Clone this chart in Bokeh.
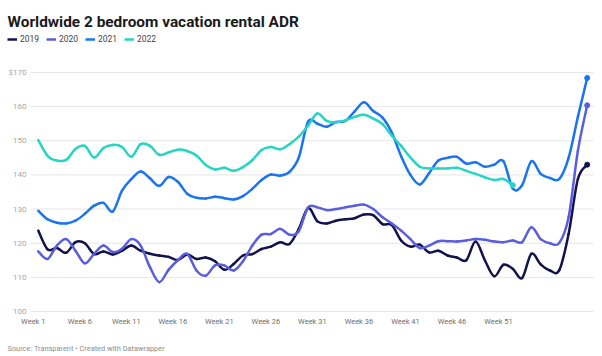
import numpy as np
from bokeh.plotting import figure
from bokeh.models import Range1d, Label, Legend, LegendItem, ColumnDataSource
from bokeh.core.properties import value
from bokeh.embed import file_html
from bokeh.resources import INLINE

# ---------------- data ----------------
weeks = list(range(1, 61))

adr_2019 = [123.7, 118.2, 118.6, 117.2, 120.3, 120.0, 116.8, 117.6, 116.7, 117.8,
            119.3, 117.8, 116.9, 116.4, 116.0, 115.1, 116.7, 115.4, 115.8, 114.7,
            112.2, 113.9, 116.4, 116.8, 118.3, 119.0, 120.3, 119.8, 124.2, 130.3,
            126.4, 125.8, 126.6, 127.0, 127.3, 128.4, 128.2, 125.6, 125.3, 120.8,
            119.0, 119.6, 117.3, 117.8, 116.4, 115.8, 115.0, 120.5, 115.0, 110.3,
            113.7, 112.5, 109.8, 116.9, 113.8, 112.0, 112.1, 122.7, 138.8, 143.0]

adr_2020 = [117.6, 115.4, 119.3, 121.2, 117.8, 114.1, 116.9, 119.3, 117.4, 118.4,
            121.2, 119.3, 113.0, 108.6, 112.2, 115.0, 116.9, 112.0, 110.5, 113.5,
            113.5, 112.0, 114.7, 119.3, 122.5, 122.7, 124.2, 122.5, 123.5, 130.5,
            130.5, 129.7, 130.0, 130.5, 131.0, 131.3, 130.0, 127.6, 125.8, 123.7,
            121.2, 118.6, 119.3, 120.6, 120.6, 120.5, 120.8, 121.2, 121.0, 120.5,
            120.3, 120.8, 120.3, 124.7, 121.2, 120.0, 120.1, 127.6, 147.1, 160.4]

adr_2021 = [129.5, 127.0, 126.0, 125.8, 126.6, 128.6, 131.0, 131.8, 129.3, 135.4,
            138.8, 141.0, 139.0, 136.8, 139.4, 138.0, 134.5, 133.3, 133.1, 133.6,
            133.2, 132.8, 133.8, 135.9, 138.5, 140.1, 139.8, 140.9, 145.1, 155.6,
            155.0, 154.1, 155.5, 155.8, 158.6, 161.3, 158.7, 156.8, 152.4, 145.5,
            140.0, 137.2, 140.5, 144.2, 145.0, 145.3, 143.3, 143.7, 142.4, 143.0,
            144.0, 136.0, 137.0, 144.0, 140.3, 139.1, 138.8, 145.0, 157.0, 168.4]

adr_2022 = [150.2, 145.6, 144.2, 144.4, 147.6, 148.5, 145.1, 147.9, 148.8, 148.2,
            145.3, 149.0, 148.5, 145.9, 146.6, 147.4, 147.0, 145.7, 142.9, 141.6,
            142.1, 141.2, 142.3, 144.3, 147.3, 148.2, 147.5, 149.0, 151.2, 154.4,
            158.0, 155.8, 155.4, 156.0, 157.0, 157.6, 156.5, 154.9, 151.5, 148.5,
            145.1, 142.4, 141.9, 141.9, 141.9, 142.1, 141.2, 140.3, 139.3, 138.5,
            138.8, 137.0]

series_names = ["2019", "2020", "2021", "2022"]
series_colors = ["#13134b", "#5a5edc", "#1a74f2", "#26d5c3"]

tick_weeks = [1, 6, 11, 16, 21, 26, 31, 36, 41, 46, 51]
tick_labels = ["Week 1", "Week 6", "Week 11", "Week 16", "Week 21", "Week 26",
               "Week 31", "Week 36", "Week 41", "Week 46", "Week 51"]
y_ticks = [100, 110, 120, 130, 140, 150, 160, 170]
y_labels = ["100", "110", "120", "130", "140", "150", "160", "$170"]

title_text = "Worldwide 2 bedroom vacation rental ADR"
footer_text = "Source: Transparent \u2022 Created with Datawrapper"

FONT = "Roboto"

# ---------------- layout (screen pixels) ----------------
W, H = 602, 356
PX_WEEK1, PX_PER_WEEK = 37.8, 9.3034      # horizontal scale
PY_100, PX_PER_UNIT = 311.0, 239.0 / 70.0  # vertical scale
GRID_LEFT, GRID_RIGHT = 30, 593


def px_to_x(px):
    return 1 + (px - PX_WEEK1) / PX_PER_WEEK


def py_to_y(py):
    return 100 + (PY_100 - py) / PX_PER_UNIT


p = figure(width=W, height=H, output_backend="svg", toolbar_location=None,
           x_range=Range1d(px_to_x(0), px_to_x(W)),
           y_range=Range1d(py_to_y(H), py_to_y(0)),
           x_axis_location=None, y_axis_location=None,
           min_border=0, min_border_left=0, min_border_right=0,
           min_border_top=0, min_border_bottom=0)
p.outline_line_color = None
p.background_fill_color = "white"
p.border_fill_color = "white"
p.grid.visible = False

# gridlines
p.segment(x0=[px_to_x(GRID_LEFT)] * len(y_ticks), x1=[px_to_x(GRID_RIGHT)] * len(y_ticks),
          y0=y_ticks, y1=y_ticks, line_color="#e6e6e6", line_width=1)

# y tick labels
p.text(x=[px_to_x(26)] * len(y_ticks), y=y_ticks, text=y_labels,
       text_font=value(FONT), text_font_size="8px", text_color="#a6a6a6",
       text_align="right", text_baseline="middle")

# x tick labels
p.text(x=tick_weeks, y=[py_to_y(321)] * len(tick_weeks), text=tick_labels,
       x_offset=-5, text_font=value(FONT), text_font_size="7.5px",
       text_color="#6e6e6e", text_align="center", text_baseline="middle")


def smooth_segments(xs, ys):
    xs = np.asarray(xs, dtype=float)
    ys = np.asarray(ys, dtype=float)
    n = len(xs)
    i = np.arange(n - 1)
    im1 = np.clip(i - 1, 0, n - 1)
    ip2 = np.clip(i + 2, 0, n - 1)
    cx0 = xs[i] + (xs[i + 1] - xs[im1]) / 6.0
    cy0 = ys[i] + (ys[i + 1] - ys[im1]) / 6.0
    cx1 = xs[i + 1] - (xs[ip2] - xs[i]) / 6.0
    cy1 = ys[i + 1] - (ys[ip2] - ys[i]) / 6.0
    return dict(x0=xs[i], y0=ys[i], x1=xs[i + 1], y1=ys[i + 1],
                cx0=cx0, cy0=cy0, cx1=cx1, cy1=cy1)


all_values = [adr_2019, adr_2020, adr_2021, adr_2022]
items = []
for name, vals, col in zip(series_names, all_values, series_colors):
    xs = weeks[:len(vals)]
    src = ColumnDataSource(smooth_segments(xs, vals))
    p.bezier(x0="x0", y0="y0", x1="x1", y1="y1", cx0="cx0", cy0="cy0",
             cx1="cx1", cy1="cy1", source=src, line_color=col, line_width=2.5,
             line_cap="round")
    end = ColumnDataSource(dict(x=[xs[-1]], y=[vals[-1]]))
    p.scatter("x", "y", source=end, size=5, fill_color=col, line_color=col)
    # one-point line (draws nothing itself) used for the legend swatch
    swatch = p.line(x=[xs[0]], y=[vals[0]], line_color=col, line_width=2.5)
    items.append(LegendItem(label=name, renderers=[swatch]))

legend = Legend(items=items, orientation="horizontal", location=(7, H - 44),
                glyph_width=10, glyph_height=10, label_standoff=3, spacing=6,
                padding=0, margin=0, border_line_color=None,
                background_fill_alpha=0, label_text_font=FONT,
                label_text_font_size="8.5px", label_text_color="#444444",
                label_height=10)
p.add_layout(legend)

p.add_layout(Label(x=7, y=H - 21, x_units="screen", y_units="screen", text=title_text,
                   text_font=FONT, text_font_size="15.4px", text_font_style="bold",
                   text_color="#1a1a1a", text_baseline="alphabetic"))
p.add_layout(Label(x=7, y=H - 347.5, x_units="screen", y_units="screen", text=footer_text,
                   text_font=FONT, text_font_size="7.4px", text_color="#8c8c8c",
                   text_baseline="alphabetic"))

open("out.html", "w").write(file_html(p, INLINE))
